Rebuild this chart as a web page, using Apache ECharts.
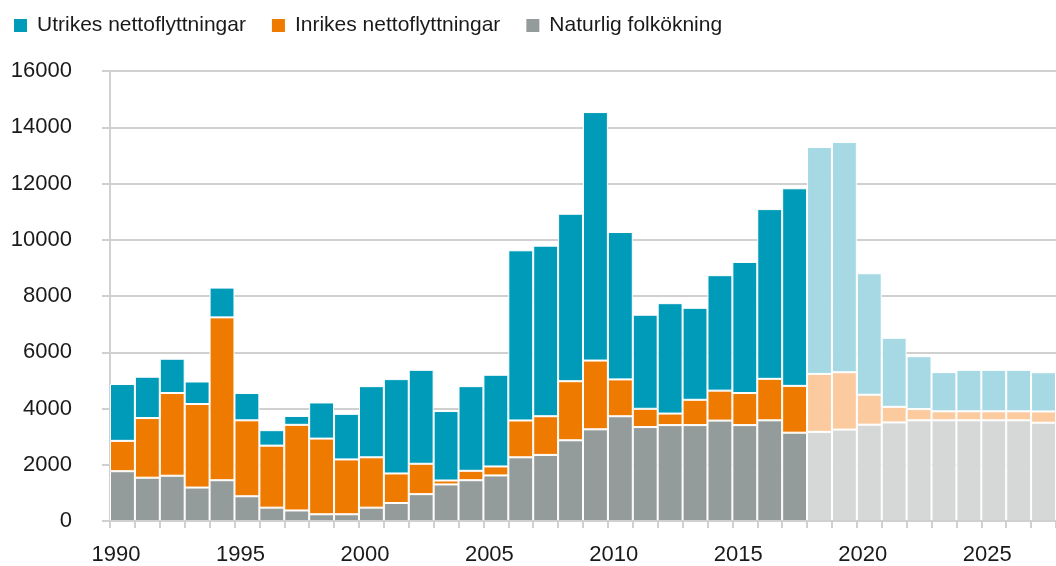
<!DOCTYPE html>
<html>
<head>
<meta charset="utf-8">
<script src="https://cdn.jsdelivr.net/npm/echarts@6/dist/echarts.min.js"></script>
<style>
  html, body { margin: 0; padding: 0; background: #fff; }
  #chart { width: 1056px; height: 566px; }
</style>
</head>
<body>
<div id="chart"></div>
<script>
const years = ['1990','1991','1992','1993','1994','1995','1996','1997','1998','1999',
  '2000','2001','2002','2003','2004','2005','2006','2007','2008','2009',
  '2010','2011','2012','2013','2014','2015','2016','2017','2018','2019',
  '2020','2021','2022','2023','2024','2025','2026','2027'];
const firstForecastYear = '2018';

const naturlig = [1770,1540,1610,1190,1450,880,475,375,240,240,
  475,640,955,1300,1450,1620,2265,2350,2870,3260,
  3725,3340,3410,3410,3570,3410,3580,3140,3170,3250,
  3425,3505,3580,3580,3580,3580,3580,3495];
const inrikes = [1080,2120,2940,2970,5790,2700,2205,3045,2690,1950,
  1790,1050,1080,140,335,320,1310,1375,2100,2445,
  1310,650,410,900,1065,1140,1475,1665,2060,2040,
  1065,555,400,320,320,320,320,400];
const utrikes = [2020,1470,1220,800,1060,970,550,315,1285,1620,
  2530,3355,3340,2470,3010,3260,6050,6065,5955,8835,
  5240,3345,3925,3270,4105,4660,6035,7025,8070,8185,
  4320,2455,1880,1395,1475,1475,1475,1395];

const seriesNames = ['Utrikes nettoflyttningar','Inrikes nettoflyttningar','Naturlig folkökning'];
const darkColors = { utr: '#009bb8', inr: '#ef7a00', nat: '#939c9a' };
const lightColors = { utr: '#a6d9e4', inr: '#fbcb9f', nat: '#d6d7d7' };

const FONT = '"Liberation Sans", Arial, sans-serif';
const AXIS_COLOR = '#d0d0d0';

function build(values, key) {
  const fIdx = years.indexOf(firstForecastYear);
  return values.map((v, i) => i >= fIdx
    ? { value: v, itemStyle: { color: lightColors[key] } }
    : v);
}

const chart = echarts.init(document.getElementById('chart'), null, { renderer: 'canvas' });
chart.setOption({
  animation: false,
  backgroundColor: '#fff',
  textStyle: { fontFamily: FONT },
  legend: {
    data: seriesNames,
    left: 12,
    top: 15,
    icon: 'rect',
    itemWidth: 15,
    itemHeight: 15,
    itemGap: 24,
    padding: 0,
    textStyle: { fontFamily: FONT, fontSize: 21, color: '#1a1a1a', padding: [0, 0, 0, 4] }
  },
  grid: { left: 110, right: -8, top: 71, bottom: 43, containLabel: false },
  xAxis: {
    type: 'category',
    data: years,
    z: 3,
    axisLine: { lineStyle: { color: AXIS_COLOR, width: 2 } },
    axisTick: { show: true, interval: 0, length: 7, lineStyle: { color: AXIS_COLOR, width: 2 } },
    axisLabel: {
      interval: (i, v) => Number(v) % 5 === 0,
      fontFamily: FONT, fontSize: 22, color: '#1a1a1a',
      margin: 23, padding: [0, 13, 0, 0]
    },
    splitLine: { show: false }
  },
  yAxis: {
    type: 'value',
    min: 0, max: 16000, interval: 2000,
    axisLine: { show: true, lineStyle: { color: AXIS_COLOR, width: 2 } },
    axisTick: { show: true, length: 8, lineStyle: { color: AXIS_COLOR, width: 2 } },
    axisLabel: { fontFamily: FONT, fontSize: 22, color: '#1a1a1a', margin: 38,
      formatter: v => String(v) },
    splitLine: { lineStyle: { color: AXIS_COLOR, width: 2 } }
  },
  series: [
    { name: seriesNames[2], type: 'bar', stack: 'total', barCategoryGap: 0,
      itemStyle: { color: darkColors.nat, borderColor: '#fff', borderWidth: 1 },
      data: build(naturlig, 'nat') },
    { name: seriesNames[1], type: 'bar', stack: 'total', barCategoryGap: 0,
      itemStyle: { color: darkColors.inr, borderColor: '#fff', borderWidth: 1 },
      data: build(inrikes, 'inr') },
    { name: seriesNames[0], type: 'bar', stack: 'total', barCategoryGap: 0,
      itemStyle: { color: darkColors.utr, borderColor: '#fff', borderWidth: 1 },
      data: build(utrikes, 'utr') }
  ]
});
</script>
</body>
</html>
